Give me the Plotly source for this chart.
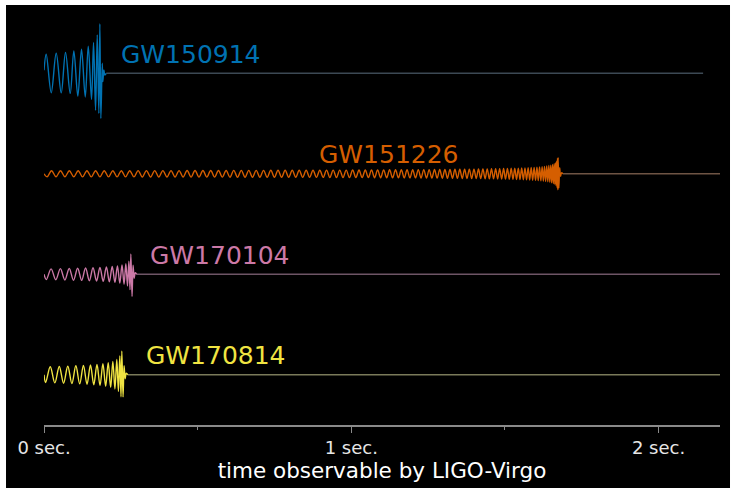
import plotly.graph_objects as go

# ---------------- data ----------------
names = ["GW150914", "GW151226", "GW170104", "GW170814"]

# GW150914: extremum times (s) and strain values (display units)
gw150914_t = [0.0, 0.0072, 0.0235, 0.0397, 0.0560, 0.0700, 0.0853, 0.0971, 0.1101, 0.1221, 0.1342,
              0.1440, 0.1547, 0.1612, 0.1678, 0.1733, 0.1785, 0.1818, 0.1850, 0.1896, 0.1915, 0.1948,
              0.1980, 0.2026]
gw150914_h = [3, 19, -19.3, 20, -19.5, 20.7, -20, 22.3, -22.7, 24, -23.5, 27, -26, 30.7, -36.7, 38.3,
              -40, 49.3, -45, 10, -8.3, 3.3, -1.7, 0]

# GW151226: intervals between successive extrema (units of 0.1 ms), amplitude runs (tenths, count)
gw151226_dt = [100, 146, 145, 146, 144, 144, 144, 143, 142, 143, 141, 141, 141, 140, 140, 139, 139, 138, 137, 137,
               137, 136, 136, 135, 135, 134, 133, 133, 133, 132, 131, 131, 131, 130, 129, 129, 129, 128, 127, 127,
               126, 126, 125, 125, 124, 123, 123, 123, 122, 121, 121, 121, 119, 120, 118, 118, 118, 117, 117, 115,
               116, 115, 114, 113, 113, 113, 112, 111, 111, 110, 110, 109, 108, 108, 107, 107, 106, 105, 105, 104,
               104, 103, 102, 102, 101, 101, 100, 99, 99, 98, 97, 97, 96, 96, 95, 94, 94, 93, 92, 91,
               91, 91, 89, 89, 89, 87, 87, 87, 85, 85, 84, 84, 82, 83, 81, 81, 79, 80, 78, 78,
               77, 76, 76, 75, 74, 73, 72, 72, 71, 70, 69, 69, 68, 67, 66, 65, 65, 63, 63, 62,
               61, 61, 59, 58, 58, 57, 55, 55, 54, 53, 52, 51, 50, 49, 48, 48, 46, 45, 43, 43,
               42, 41, 39, 38, 37, 36, 35, 33, 32, 31, 29, 28, 27, 25, 23, 21, 20, 18, 16, 14,
               11, 8]
gw151226_amp_runs = [(30, 7), (31, 14), (32, 12), (33, 11), (34, 10), (35, 9), (36, 8), (37, 7), (38, 7), (39, 6),
                     (40, 5), (41, 5), (42, 5), (43, 4), (44, 4), (45, 4), (46, 3), (47, 4), (48, 3), (49, 2),
                     (50, 3), (51, 2), (52, 2), (53, 2), (54, 2), (55, 2), (56, 2), (57, 2), (58, 1), (59, 2),
                     (60, 1), (61, 1), (62, 1), (63, 1), (64, 2), (65, 1), (66, 1), (68, 1), (69, 1), (70, 1),
                     (71, 1), (73, 1), (74, 1), (76, 1), (78, 1), (79, 1), (82, 1), (84, 1), (86, 1), (89, 1),
                     (92, 1), (96, 1), (100, 1), (105, 1), (111, 1), (118, 1), (127, 1), (138, 1), (155, 1), (160, 2)]
gw151226_ring_t = [1.6756, 1.6782, 1.6811, 1.6843, 1.6883]
gw151226_ring_h = [-14, 6, -2.5, 1, 0]

gw170104_t = [0, 0.0075, 0.0231, 0.0384, 0.0533, 0.0679, 0.0821, 0.096, 0.1095, 0.1226, 0.1353, 0.1476, 0.1595,
              0.171, 0.1821, 0.1928, 0.203, 0.2127, 0.222, 0.2308, 0.239, 0.2467, 0.2539, 0.2605, 0.2664, 0.2717,
              0.2762, 0.2799, 0.2827, 0.2866, 0.2899, 0.2934, 0.297, 0.3019]
gw170104_h = [0, -5.3, 5.4, -5.5, 5.6, -5.7, 5.8, -5.9, 6, -6.1, 6.2, -6.4, 6.5, -6.7, 6.8, -7, 7.3, -7.5, 7.8,
              -8.1, 8.4, -8.8, 9.3, -9.9, 10.6, -11.6, 13, -15.3, 20.2, -22, 9, -4, 1.5, 0]

gw170814_t = [0, 0.0052, 0.0204, 0.0352, 0.0497, 0.0637, 0.0774, 0.0907, 0.1037, 0.1162, 0.1283, 0.14, 0.1512,
              0.162, 0.1724, 0.1823, 0.1917, 0.2006, 0.209, 0.2169, 0.2241, 0.2308, 0.2369, 0.2422, 0.2468,
              0.2506, 0.2533, 0.2573, 0.2606, 0.2641, 0.2677, 0.2726]
gw170814_h = [0, -7.8, 8, -8.1, 8.2, -8.4, 8.5, -8.7, 8.9, -9.1, 9.3, -9.5, 9.8, -10, 10.3, -10.7, 11.1, -11.5,
              12, -12.6, 13.3, -14.1, 15.2, -16.6, 18.6, -21.9, 23.5, -22, 9, -4, 1.5, 0]

tail_end = [2.145, 2.2, 2.2, 2.2]
label_x = [0.245, 0.890, 0.340, 0.324]
tick_vals = [0, 1, 2]
tick_text = ["0 sec.", "1 sec.", "2 sec."]
minor_vals = [0.5, 1.5]
x_range = [0, 2.2]

# ---------------- decode GW151226 ----------------
gw151226_t = [0.0]
acc = 0
for d in gw151226_dt:
    acc += d
    gw151226_t.append(acc / 10000.0)
amps = [a / 10.0 for a, n in gw151226_amp_runs for _ in range(n)]
gw151226_h = [0.0] + [a if (len(amps) - i) % 2 == 1 else -a for i, a in enumerate(amps)]
gw151226_t += gw151226_ring_t
gw151226_h += gw151226_ring_h

# ---------------- styling ----------------
series_t = [gw150914_t, gw151226_t, gw170104_t, gw170814_t]
series_h = [gw150914_h, gw151226_h, gw170104_h, gw170814_h]
colors = ["#0072B2", "#D55E00", "#CC79A7", "#F0E442"]
tail_colors = ["#3c4954", "#6e5444", "#6e5566", "#7a7a5a"]
offsets = [300, 200, 100, 0]

fig = go.Figure()
for t, h, c, tc, off, te, nm, lx in zip(series_t, series_h, colors, tail_colors, offsets, tail_end, names, label_x):
    fig.add_trace(go.Scatter(x=[t[-1], te], y=[off, off], mode="lines",
                             line=dict(color=tc, width=1.5), hoverinfo="skip", showlegend=False))
    fig.add_trace(go.Scatter(x=t, y=[off + v for v in h], mode="lines",
                             line=dict(color=c, width=1.4, shape="spline", smoothing=1.0),
                             name=nm, showlegend=False))
    fig.add_annotation(x=lx, y=off + 19, xref="x", yref="y", text=nm, showarrow=False,
                       xanchor="left", yanchor="middle",
                       font=dict(family="DejaVu Sans", size=25, color=c))

fig.add_shape(type="rect", xref="paper", yref="paper", x0=-0.0562, x1=1.0148, y0=-0.15, y1=1.0,
              fillcolor="black", line=dict(width=0), layer="below")

fig.update_layout(
    width=735, height=493,
    margin=dict(l=44, r=15, t=5, b=68, autoexpand=False),
    paper_bgcolor="white", plot_bgcolor="black",
    font=dict(family="DejaVu Sans"),
    xaxis=dict(range=x_range, showgrid=False, zeroline=False, showline=True,
               linecolor="#8a8a8a", linewidth=1.5, ticks="outside", ticklen=6, tickwidth=1.3,
               tickcolor="#8a8a8a", tickvals=tick_vals, ticktext=tick_text,
               tickfont=dict(size=18, color="#e6e6e6"),
               minor=dict(tickvals=minor_vals, ticks="outside", ticklen=3.5, tickwidth=1, tickcolor="#8a8a8a"),
               title=dict(text="time observable by LIGO-Virgo", font=dict(size=21.5, color="white"), standoff=6),
               automargin=False),
    yaxis=dict(range=[-50, 368], visible=False, showgrid=False, zeroline=False),
)
fig.write_html("out.html", config={"displayModeBar": False},
               post_script="document.body.style.margin='0';document.body.style.overflow='hidden';")
